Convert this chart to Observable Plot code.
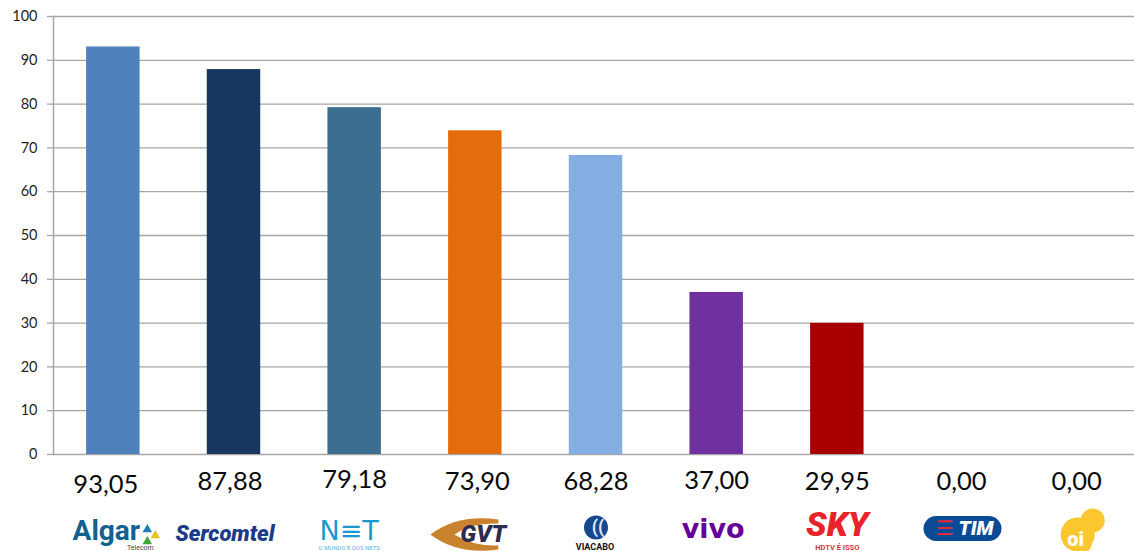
<!DOCTYPE html>
<html><head><meta charset="utf-8">
<script src="https://cdn.jsdelivr.net/npm/d3@7"></script>
<script src="https://cdn.jsdelivr.net/npm/@observablehq/plot@0.6"></script>
<style>html,body{margin:0;padding:0;background:#fff}svg{display:block}</style>
</head><body><div id="chart"></div>
<script>
const operators = ["Algar","Sercomtel","NET","GVT","Viacabo","Vivo","SKY","TIM","Oi"];
const scores = [93.05,87.88,79.18,73.90,68.28,37.00,29.95,0,0];
const scoreLabels = ["93,05","87,88","79,18","73,90","68,28","37,00","29,95","0,00","0,00"];
const barColors = ["#4f81bd","#17375e","#3c6e8f","#e46c0a","#84aee2","#7030a0","#a80000","#ffffff","#ffffff"];
const yTicks = [0,10,20,30,40,50,60,70,80,90,100];

const rows = operators.map((name,i)=>({name,score:scores[i],label:scoreLabels[i]}));
const GRAY = "#a6a6a6";

function value(i,dx,dy){
  return Plot.text([rows[i]],{x:"name",text:"label",frameAnchor:"bottom",lineAnchor:"middle",dx,dy,
    fontFamily:"Lato",fontSize:25.5,fill:"#0a0a0a"});
}
function logoText(name,text,dx,dy,o){
  return Plot.text([name],{x:d=>d,text:()=>text,frameAnchor:"bottom",lineAnchor:"middle",dx,dy,fontFamily:"Roboto",...o});
}
function logoDot(name,dx,dy,r,fill,symbol){
  return Plot.dot([name],{x:d=>d,frameAnchor:"bottom",dx,dy,r,fill,symbol:symbol||"circle"});
}
const pill = (w,h)=>({draw(c,size){const r=Math.sqrt(size/Math.PI)/12;const a=w*r/2,b=h*r/2;
  c.moveTo(-a+b,-b);c.lineTo(a-b,-b);c.arc(a-b,0,b,-Math.PI/2,Math.PI/2);c.lineTo(-a+b,b);c.arc(-a+b,0,b,Math.PI/2,-Math.PI/2);c.closePath();}});
const lens = (w,h)=>({draw(c,size){const r=Math.sqrt(size/Math.PI)/12;const a=w*r/2,b=h*r/2;
  c.moveTo(-a,0);c.quadraticCurveTo(-a*0.3,-b*1.4,a*0.7,-b);c.lineTo(a*0.7,b);c.quadraticCurveTo(-a*0.3,b*1.4,-a,0);c.closePath();}});

const chart = Plot.plot({
  width:1134,height:551,marginTop:16,marginBottom:97,marginLeft:53,marginRight:0,
  style:{background:"#fff",overflow:"hidden"},
  x:{type:"band",domain:operators,range:[52.5,1138.5],paddingInner:0.557,paddingOuter:0.2785,round:false,axis:null},
  y:{domain:[0,100],axis:null},
  color:{domain:operators,range:barColors},
  marks:[
    Plot.ruleY(yTicks,{stroke:GRAY,strokeWidth:1.3}),
    Plot.axisY({ticks:yTicks,tickSize:6,tickPadding:10,stroke:GRAY,strokeOpacity:1,strokeWidth:1.3,label:null,
      fontFamily:"Lato",fontSize:14.5,color:"#1f1f1f",fill:"#1f1f1f"}),
    Plot.frame({anchor:"left",stroke:GRAY,strokeWidth:1.5}),
    Plot.barY(rows,{x:"name",y:"score",fill:"name"}),

    value(0,-7.5,30), value(1,-4,27), value(2,0,25), value(3,2,27), value(4,0,27),
    value(5,0,26), value(6,0,27), value(7,3.5,27), value(8,-2,27),

    logoText("Algar","Algar",-7,77,{fontWeight:700,fontSize:28,fill:"#11608f",letterSpacing:-0.5}),
    logoDot("Algar",34,75,3.5,"#1f7bb8","triangle"),
    logoDot("Algar",42,81,3.5,"#e6c325","triangle"),
    logoDot("Algar",34,87,3.5,"#3aa63a","triangle"),
    logoText("Algar","Telecom",27,93,{fontSize:7,fill:"#444"}),

    logoText("Sercomtel","Sercomtel",-9,79,{fontWeight:900,fontStyle:"italic",fontSize:22,fill:"#1c3a8c"}),

    logoText("NET","N≡T",-5.5,77,{fontWeight:400,fontSize:27,fill:"#1b98d0",letterSpacing:8,fontFamily:"DejaVu Sans"}),
    logoText("NET","O MUNDO É DOS NETS",-5.5,94,{fontSize:6,fill:"#55b5dd"}),

    logoDot("GVT",-5,80,12,"#c9822d",lens(80,30)),
    logoDot("GVT",10,80,12,"#fff",lens(62,20)),
    logoText("GVT","GVT",8,80,{fontWeight:900,fontStyle:"italic",fontSize:24,fill:"#2b2c4e"}),

    logoDot("Viacabo",0,73,12,"#17478f"),
    logoText("Viacabo","((",2,73,{fontWeight:700,fontSize:18,fill:"#dfe7f2"}),
    logoText("Viacabo","VIACABO",-1,93,{fontWeight:700,fontSize:9,fill:"#111",letterSpacing:-0.5}),

    logoText("Vivo","vivo",-3.5,75,{fontWeight:700,fontSize:27,fill:"#660099",fontFamily:"DejaVu Sans"}),

    logoText("SKY","SKY",0,71,{fontWeight:900,fontStyle:"italic",fontSize:34,fill:"#e8232b",letterSpacing:-1}),
    logoText("SKY","HDTV É ISSO",0,93,{fontWeight:700,fontSize:7.5,fill:"#d9363c",letterSpacing:2}),

    logoDot("TIM",4.5,74,12,"#0b4a94",pill(78,25)),
    logoText("TIM","☰",-13,74,{fontSize:20,fill:"#e02b36",fontFamily:"DejaVu Sans"}),
    logoText("TIM","TIM",18,74,{fontWeight:900,fontStyle:"italic",fontSize:20,fill:"#fff"}),

    logoDot("Oi",-1,80,17,"#fcc72e"),
    logoDot("Oi",14,66,12,"#fcc72e"),
    logoDot("Oi",6,90,7,"#fcc72e"),
    logoText("Oi","oi",-3,85,{fontWeight:900,fontSize:20,fill:"#fff"})
  ]
});
document.getElementById("chart").append(chart);
</script></body></html>
